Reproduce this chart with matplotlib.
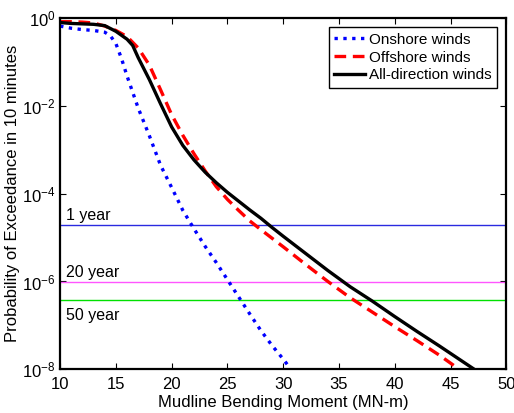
import matplotlib
matplotlib.use("Agg")
import matplotlib.pyplot as plt
import numpy as np

plt.rcParams['font.family'] = ['Liberation Sans', 'DejaVu Sans']
plt.rcParams['mathtext.fontset'] = 'custom'
plt.rcParams['mathtext.rm'] = 'Liberation Sans'
plt.rcParams['mathtext.it'] = 'Liberation Sans:italic'

# data (moment in MN-m, log10 of exceedance probability)
x_on = [10, 11, 12, 13, 14, 14.5, 15, 15.5, 16, 17, 18, 19, 20, 21, 22, 23, 24, 25, 26, 27,
        28, 29, 30, 30.6]
logp_on = [-0.18, -0.23, -0.26, -0.28, -0.32, -0.40, -0.58, -0.92, -1.32, -2.05, -2.68, -3.35,
           -3.86, -4.38, -4.80, -5.20, -5.57, -5.96, -6.35, -6.74, -7.12, -7.46, -7.77, -7.97]

x_off = [10, 11, 12, 13, 14, 15, 16, 17, 18, 19, 20, 21, 22, 23, 24, 25, 26, 27, 28,
         30, 32, 34, 36, 38, 40, 42, 44, 45.6]
logp_off = [-0.08, -0.08, -0.09, -0.11, -0.18, -0.28, -0.42, -0.68, -1.07, -1.63, -2.20, -2.67,
            -3.09, -3.48, -3.84, -4.13, -4.38, -4.62, -4.82, -5.21, -5.61, -6.00, -6.37, -6.70,
            -7.03, -7.35, -7.68, -7.97]

x_all = [10, 11, 12, 13, 14, 15, 16, 16.5, 17, 18, 19, 20, 21, 22, 23, 24, 25, 26, 27, 28, 29,
         30, 32, 34, 36, 38, 40, 42, 44, 46, 47]
logp_all = [-0.10, -0.12, -0.13, -0.14, -0.17, -0.30, -0.48, -0.62, -0.90, -1.40, -1.95, -2.48,
            -2.90, -3.23, -3.51, -3.75, -3.97, -4.17, -4.37, -4.56, -4.77, -4.97, -5.36, -5.75,
            -6.12, -6.45, -6.80, -7.14, -7.47, -7.81, -7.98]

# return-period levels (10-minute exceedance)
levels = [1.9e-5, 9.5e-7, 3.8e-7]
level_names = ['1 year', '20 year', '50 year']
level_colors = ['#2a2ae0', '#ff55ff', '#00e000']

fig = plt.figure(figsize=(5.14, 4.13), dpi=100)
ax = fig.add_axes([0.117, 0.106, 0.868, 0.85])

for lv, col in zip(levels, level_colors):
    ax.axhline(lv, color=col, lw=1.0)

ax.plot(x_on, 10 ** np.array(logp_on), color='#0000ff', ls=':', lw=2.4, label='Onshore winds')
ax.plot(x_off, 10 ** np.array(logp_off), color='#ff0000', ls=(0, (3.5, 2)), lw=2.4, label='Offshore winds')
ax.plot(x_all, 10 ** np.array(logp_all), color='black', ls='-', lw=2.4, label='All-direction winds')

ax.text(10.5, levels[0] * 1.15, level_names[0], fontsize=11.5, va='bottom')
ax.text(10.5, levels[1] * 1.15, level_names[1], fontsize=11.5, va='bottom')
ax.text(10.5, levels[2] / 1.5, level_names[2], fontsize=11.5, va='top')

ax.set_yscale('log')
ax.set_xlim(10, 50)
ax.set_ylim(1e-8, 1)
ax.set_xticks(range(10, 51, 5))
ax.set_yticks([1e0, 1e-2, 1e-4, 1e-6, 1e-8])
ax.minorticks_off()
ax.tick_params(direction='in', top=True, right=True, labelsize=12, length=4, width=0.8)
ax.tick_params(axis='x', pad=5.5)
for s in ax.spines.values():
    s.set_linewidth(1.6)

ax.set_xlabel('Mudline Bending Moment (MN-m)', fontsize=12, labelpad=2)
ax.set_ylabel('Probability of Exceedance in 10 minutes', fontsize=12, labelpad=1)

leg = ax.legend(loc='upper right', fontsize=11, handlelength=2.0, borderpad=0.35,
                labelspacing=0.25, handletextpad=0.3, fancybox=False, framealpha=1,
                borderaxespad=0.6)
leg.get_frame().set_edgecolor('black')
leg.get_frame().set_linewidth(1.0)

fig.savefig('out.png', dpi=100)
